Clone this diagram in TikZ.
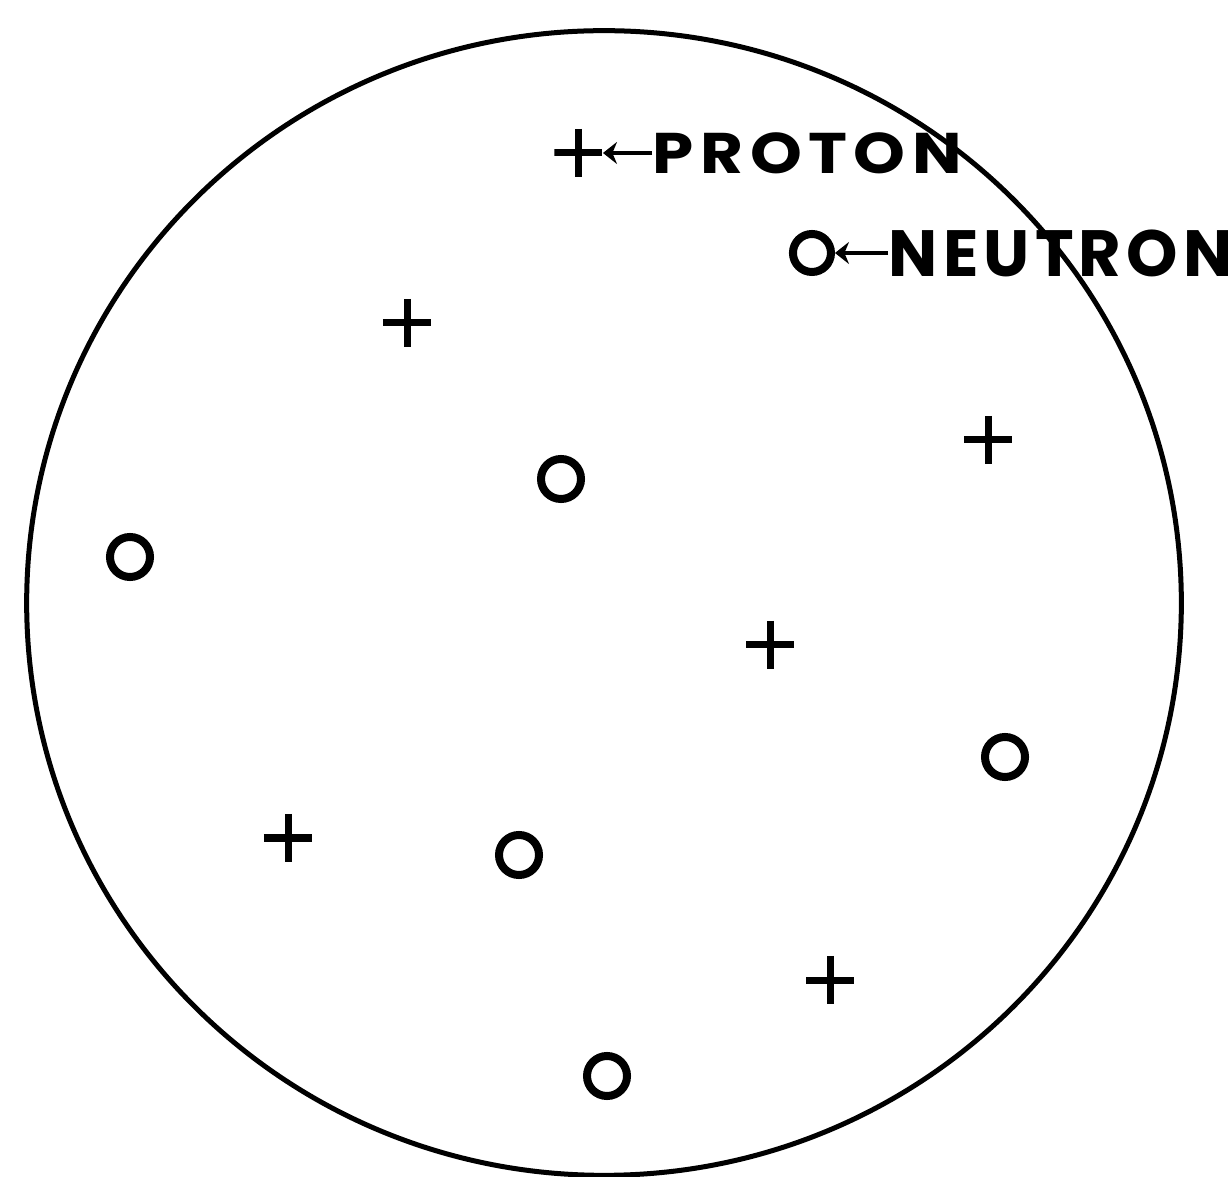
\documentclass[tikz,border=0pt]{standalone}
\usepackage{fontspec}
\usepackage{graphicx}
\usepackage{tikz}
\usetikzlibrary{positioning,arrows.meta}
\newfontfamily\lblfont{Poppins}

\begin{document}
\begin{tikzpicture}[
  x=0.01cm, y=-0.01cm,
  rim/.style={line width=0.05cm},
  neutron/.style={circle, draw, line width=0.08cm, minimum size=0.40cm, inner sep=0pt},
  proton/.style={minimum size=0.48cm, inner sep=0pt,
    path picture={\draw[line width=0.07cm]
      (path picture bounding box.north) -- (path picture bounding box.south)
      (path picture bounding box.west) -- (path picture bounding box.east);}},
  lbl/.style={inner sep=0pt, anchor=west},
  arr/.style={-{Stealth[length=1.4mm, width=2.2mm]}, line width=0.04cm}]
\useasboundingbox (0,0) rectangle (1228,1177);
\draw[rim] (604,603) ellipse [x radius=5.77cm, y radius=5.72cm];
% legend
\node[lbl, font=\lblfont\bfseries\fontsize{16.3}{18}\selectfont\addfontfeature{LetterSpace=10}] (ptxt) at (652,153) {\scalebox{1.15}[1]{PROTON}};
\node[proton, left=0.49cm of ptxt] (lgp) {};
\node[lbl, font=\lblfont\bfseries\fontsize{18.6}{20}\selectfont\addfontfeature{LetterSpace=8}] (ntxt) at (888,253) {NEUTRON};
\node[neutron, minimum size=0.38cm, left=0.53cm of ntxt] (lgn) {};
\draw[arr] (ptxt) -- (lgp);
\draw[arr] (ntxt) -- (lgn);
% nucleus
\node[proton] (p1) at (407,323) {};
\node[proton] (p2) at (988,440) {};
\node[proton] (p3) at (770,645) {};
\node[proton] (p4) at (288,838) {};
\node[proton] (p5) at (830,980) {};
\node[neutron] (n1) at (561,479) {};
\node[neutron] (n2) at (130,557) {};
\node[neutron] (n3) at (1005,757) {};
\node[neutron] (n4) at (519,855) {};
\node[neutron] (n5) at (607,1076) {};
\end{tikzpicture}
\end{document}
